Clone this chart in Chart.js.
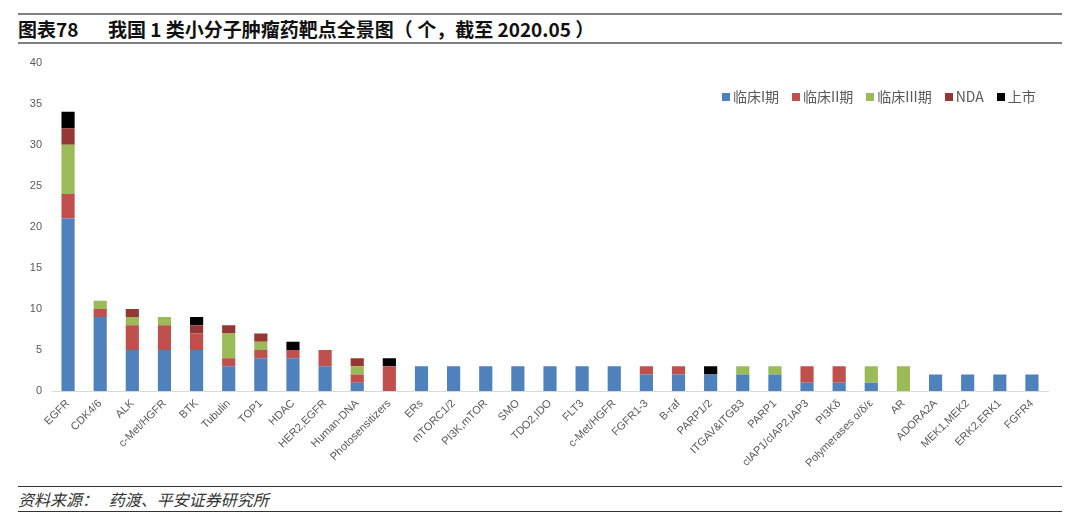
<!DOCTYPE html>
<html lang="zh">
<head>
<meta charset="UTF-8">
<title>我国1类小分子肿瘤药靶点全景图</title>
<script src="https://cdn.jsdelivr.net/npm/chart.js@4.4.1/dist/chart.umd.min.js"></script>
<style>
    body { margin: 0; background: #fff; font-family: "Liberation Sans", Arial, sans-serif; }
    .page { position: relative; width: 1080px; height: 519px; }
    .title { position: absolute; left: 18px; top: 13px; width: 1044px; height: 27px;
        border-top: 2px solid #7f7f7f; border-bottom: 2px solid #7f7f7f;
        font-family: "Noto Sans CJK SC", sans-serif; font-weight: bold; font-size: 19px;
        line-height: 27px; color: #111; }
    .title span { position: absolute; }
    .legend { position: absolute; left: 722px; top: 86px; font-size: 14px; color: #595959;
        font-family: "Noto Sans CJK SC", sans-serif; white-space: nowrap; }
    .legend i { display: inline-block; width: 8px; height: 8px; margin: 0 3px 1px 0; }
    .legend b { font-weight: normal; margin-right: 13px; }
    .source { position: absolute; left: 18px; top: 486px; width: 1044px; height: 24px;
        border-top: 1px solid #333; border-bottom: 1px solid #333;
        font-family: "Noto Sans CJK SC", sans-serif; font-style: italic; font-size: 16px;
        line-height: 24px; color: #333; }
    #wrap { position: absolute; left: 0; top: 46px; width: 1060px; height: 434px; }
</style>
</head>
<body>
<div class="page">
    <div class="title"><span style="left:0">图表78</span><span style="left:90px">我国 1 类小分子肿瘤药靶点全景图（ 个，截至 2020.05 ）</span></div>
    <div id="wrap"><canvas id="chart"></canvas></div>
    <div class="legend" id="legend"></div>
    <div class="source">资料来源：&nbsp;&nbsp;&nbsp;药渡、平安证券研究所</div>
</div>
<script>
    var targets = ['EGFR', 'CDK4/6', 'ALK', 'c-Met/HGFR', 'BTK', 'Tubulin', 'TOP1', 'HDAC', 'HER2,EGFR', 'Human-DNA',
        'Photosensitizers', 'ERs', 'mTORC1/2', 'PI3K,mTOR', 'SMO', 'TDO2,IDO', 'FLT3', 'c-Met/HGFR', 'FGFR1-3', 'B-raf',
        'PARP1/2', 'ITGAV&ITGB3', 'PARP1', 'cIAP1/cIAP2,IAP3', 'PI3Kδ', 'Polymerases α/δ/ε', 'AR', 'ADORA2A', 'MEK1,MEK2', 'ERK2,ERK1', 'FGFR4']

    var phase1 = [21, 9, 5, 5, 5, 3, 4, 4, 3, 1, 0, 3, 3, 3, 3, 3, 3, 3, 2, 2, 2, 2, 2, 1, 1, 1, 0, 2, 2, 2, 2]
    var phase2 = [3, 1, 3, 3, 2, 1, 1, 1, 2, 1, 3, 0, 0, 0, 0, 0, 0, 0, 1, 1, 0, 0, 0, 2, 2, 0, 0, 0, 0, 0, 0]
    var phase3 = [6, 1, 1, 1, 0, 3, 1, 0, 0, 1, 0, 0, 0, 0, 0, 0, 0, 0, 0, 0, 0, 1, 1, 0, 0, 2, 3, 0, 0, 0, 0]
    var nda    = [2, 0, 1, 0, 1, 1, 1, 0, 0, 1, 0, 0, 0, 0, 0, 0, 0, 0, 0, 0, 0, 0, 0, 0, 0, 0, 0, 0, 0, 0, 0]
    var market = [2, 0, 0, 0, 1, 0, 0, 1, 0, 0, 1, 0, 0, 0, 0, 0, 0, 0, 0, 0, 1, 0, 0, 0, 0, 0, 0, 0, 0, 0, 0]

    var seriesNames = ['临床I期', '临床II期', '临床III期', 'NDA', '上市']
    var seriesColors = ['#4f81bd', '#c0504d', '#9bbb59', '#953735', '#000000']
    var yTicks = [0, 5, 10, 15, 20, 25, 30, 35, 40]

    var allSeries = [phase1, phase2, phase3, nda, market]
    var datasets = allSeries.map(function (vals, i) {
        return {
            label: seriesNames[i],
            data: vals,
            backgroundColor: seriesColors[i],
            categoryPercentage: 1,
            barPercentage: 0.41
        }
    })

    // legend as html, built from the same arrays
    var legendHtml = ''
    seriesNames.forEach(function (name, i) {
        legendHtml += '<i style="background:' + seriesColors[i] + '"></i><b>' + name + '</b>'
    })
    document.getElementById('legend').innerHTML = legendHtml

    var ctx = document.getElementById('chart').getContext('2d')
    new Chart(ctx, {
        type: 'bar',
        data: { labels: targets, datasets: datasets },
        options: {
            responsive: true,
            maintainAspectRatio: false,
            animation: false,
            layout: { padding: { top: 8, right: 12, left: 0, bottom: 0 } },
            plugins: { legend: { display: false }, tooltip: { enabled: false } },
            scales: {
                x: {
                    stacked: true,
                    grid: { display: false, drawTicks: false },
                    border: { color: '#d9d9d9', width: 1 },
                    ticks: {
                        color: '#595959',
                        font: { family: 'Liberation Sans', size: 11 },
                        minRotation: 45,
                        maxRotation: 45,
                        autoSkip: false,
                        padding: 6
                    },
                    afterFit: function (s) { s.height = 89 }
                },
                y: {
                    stacked: true,
                    min: 0,
                    max: 40,
                    grid: { display: false, drawTicks: false },
                    border: { display: false },
                    afterBuildTicks: function (s) { s.ticks = yTicks.map(function (v) { return { value: v } }) },
                    ticks: {
                        color: '#595959',
                        font: { family: 'Liberation Sans', size: 11 },
                        padding: 10
                    },
                    afterFit: function (s) { s.width = 52 }
                }
            }
        }
    })
</script>
</body>
</html>
